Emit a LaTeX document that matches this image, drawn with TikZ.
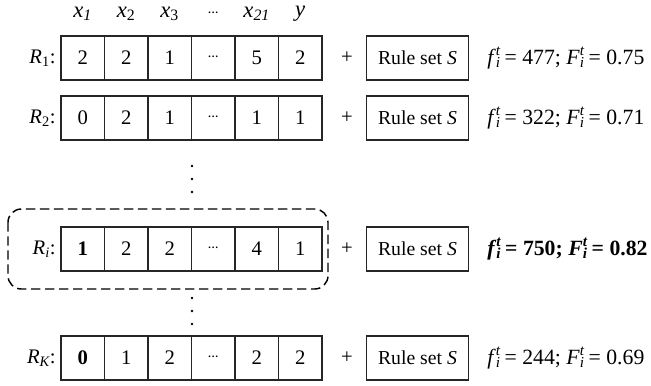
\documentclass[tikz,border=0pt]{standalone}
\usepackage{fontspec}
\setmainfont{Liberation Serif}
\usetikzlibrary{positioning}

% centred dots used inside the cells and above the columns
\newcommand{\middots}{\raisebox{0.3ex}{\footnotesize\textbf{\ldots}}}
% fitness symbol with stacked sub- and superscript
\newcommand{\fitsym}[1]{\textit{#1}\rlap{\textsubscript{\textit{i}}}\textsuperscript{\textit{t}}}

\begin{document}
\begin{tikzpicture}[x=0.75pt, y=-0.75pt, font=\fontsize{15.5}{18}\selectfont,
        cell/.style={draw=black!85, line width=0.8pt, minimum width=32.6pt, minimum height=33pt, inner sep=0pt},
        rulebox/.style={draw=black!85, line width=0.8pt, minimum width=77pt, minimum height=33pt, inner sep=0pt,
                        font=\fontsize{14.8}{17}\selectfont},
        rowlabel/.style={anchor=east, inner sep=0pt},
        header/.style={font=\fontsize{17}{20}\selectfont},
        fitness/.style={anchor=west, inner sep=0pt, font=\fontsize{16.3}{19}\selectfont}]
  \useasboundingbox (0,0) rectangle (651,386);

  % column headers
  \foreach \h [count=\c] in {\textit{x}\textsubscript{\textit{1}}, \textit{x}\textsubscript{2}, \textit{x}\textsubscript{3}, \middots, \textit{x}\textsubscript{\textit{21}}, \textit{y}}
    \node[header] (h\c) at (39.25+43.5*\c, 14) {\h};

  % row R_1
  \node[rowlabel] (r1) at (56,58) {\textit{R}\textsubscript{1}:};
  \foreach \v [count=\c] in {2,2,1,\middots,5,2}
    \node[cell] (r1-\c) at (39.25+43.5*\c, 58) {\v};
  \node (p1) at (347,58) {+};
  \node[rulebox] (s1) at (417.5,58) {Rule set \textit{S}};
  \node[fitness] (f1) at (487,58) {\fitsym{f}\,= 477; \fitsym{F}\,= 0.75};

  % row R_2
  \node[rowlabel] (r2) at (56,118) {\textit{R}\textsubscript{2}:};
  \foreach \v [count=\c] in {0,2,1,\middots,1,1}
    \node[cell] (r2-\c) at (39.25+43.5*\c, 118) {\v};
  \node (p2) at (347,118) {+};
  \node[rulebox] (s2) at (417.5,118) {Rule set \textit{S}};
  \node[fitness] (f2) at (487,118) {\fitsym{f}\,= 322; \fitsym{F}\,= 0.71};

  % skipped rows
  \foreach \yy in {166,179,192,298,311,324}
    \fill (192,\yy) circle (1.1pt);

  % selected row R_i
  \draw[dash pattern=on 7pt off 3.5pt, line width=1.1pt, rounded corners=10pt] (8,209) rectangle (328,289);
  \node[rowlabel] (ri) at (56,249) {\textit{R\textsubscript{i}}:};
  \foreach \v [count=\c] in {\textbf{1},2,2,\middots,4,1}
    \node[cell] (ri-\c) at (39.25+43.5*\c, 249) {\v};
  \node (pi) at (347,249) {+};
  \node[rulebox] (si) at (417.5,249) {Rule set \textit{S}};
  \node[fitness, font=\fontsize{16.3}{19}\selectfont\bfseries] (fi) at (487,249) {\fitsym{f}\,= 750; \fitsym{F}\,= 0.82};

  % last row R_K
  \node[rowlabel] (rk) at (56,358) {\textit{R\textsubscript{K}}:};
  \foreach \v [count=\c] in {\textbf{0},1,2,\middots,2,2}
    \node[cell] (rk-\c) at (39.25+43.5*\c, 358) {\v};
  \node (pk) at (347,358) {+};
  \node[rulebox] (sk) at (417.5,358) {Rule set \textit{S}};
  \node[fitness] (fk) at (487,358) {\fitsym{f}\,= 244; \fitsym{F}\,= 0.69};
\end{tikzpicture}
\end{document}
